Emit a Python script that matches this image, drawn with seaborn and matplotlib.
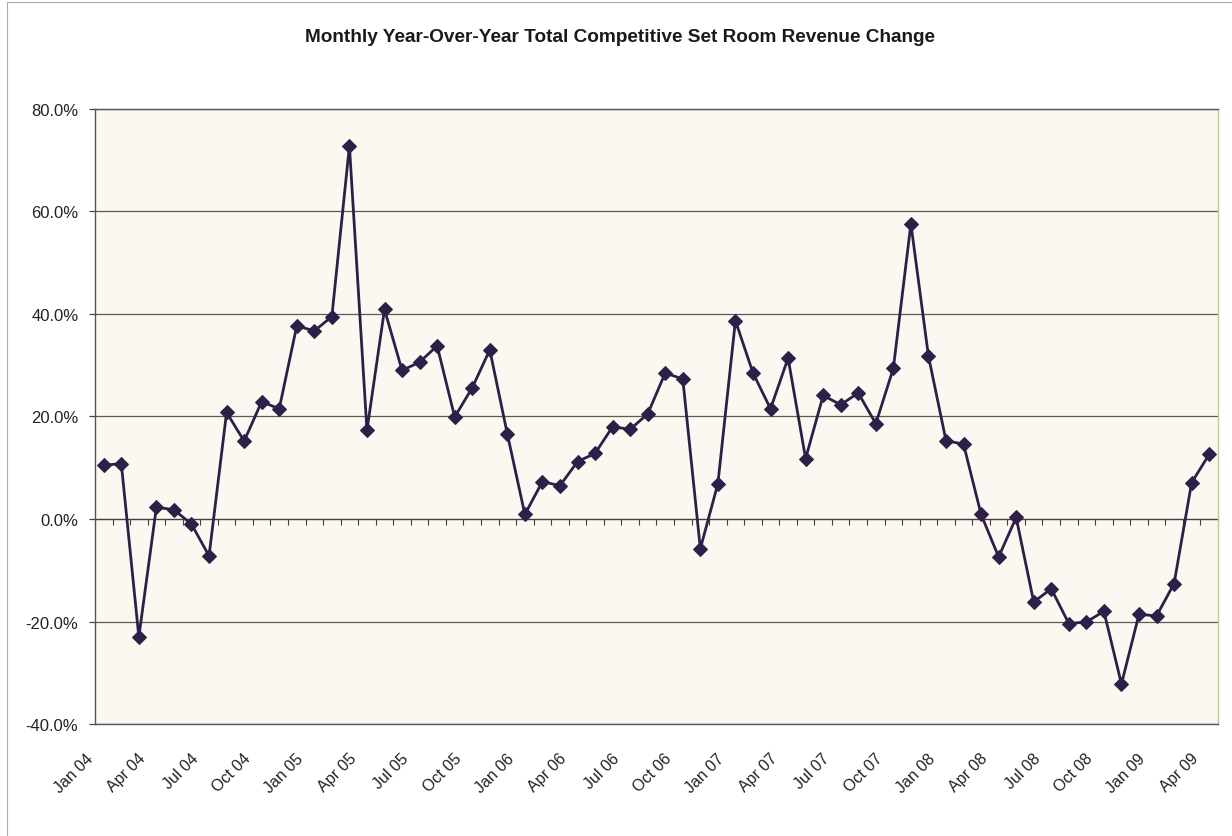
import numpy as np
import pandas as pd
import matplotlib
matplotlib.use("Agg")
import matplotlib.pyplot as plt
import matplotlib.patches as mpatches
from matplotlib.transforms import ScaledTranslation
import seaborn as sns

# monthly YoY change (%), Jan 04 .. Apr 09
rev_change = [
    10.5, 10.8, -23.0, 2.3, 1.8, -1.0, -7.2, 20.8, 15.2, 22.9, 21.5, 37.7,   # 2004
    36.7, 39.5, 72.8, 17.3, 40.9, 29.0, 30.6, 33.8, 19.9, 25.6, 33.0, 16.6,  # 2005
    0.9, 7.3, 6.5, 11.2, 12.8, 18.0, 17.5, 20.5, 28.5, 27.3, -5.8, 6.9,      # 2006
    38.7, 28.5, 21.5, 31.4, 11.8, 24.1, 22.3, 24.6, 18.6, 29.4, 57.6, 31.8,  # 2007
    15.3, 14.6, 0.9, -7.4, 0.3, -16.2, -13.6, -20.4, -20.1, -18.0, -32.2, -18.6,  # 2008
    -18.9, -12.6, 7.1, 12.6,                                                  # 2009
]
tick_labels = [
    "Jan 04", "Apr 04", "Jul 04", "Oct 04", "Jan 05", "Apr 05", "Jul 05", "Oct 05",
    "Jan 06", "Apr 06", "Jul 06", "Oct 06", "Jan 07", "Apr 07", "Jul 07", "Oct 07",
    "Jan 08", "Apr 08", "Jul 08", "Oct 08", "Jan 09", "Apr 09",
]
y_ticks = [-40, -20, 0, 20, 40, 60, 80]
title = "Monthly Year-Over-Year Total Competitive Set Room Revenue Change"

df = pd.DataFrame({"month": np.arange(len(rev_change)), "change": rev_change})

sns.set_style("white")
plt.rcParams["font.family"] = ["Liberation Sans", "DejaVu Sans"]

fig = plt.figure(figsize=(12.32, 8.37), dpi=100)
ax = fig.add_axes([0.0771, 0.1338, 0.9115, 0.7348])
ax.set_facecolor("#faf8f1")

grid_col = "#5e5a4c"
for y in y_ticks:
    if y != 0:
        ax.axhline(y, color=grid_col, lw=0.9, zorder=1)

sns.lineplot(data=df, x="month", y="change", ax=ax, color="#2f1f48", lw=2.0,
             marker="D", markersize=7, markeredgecolor="#2f1f48", zorder=5)

ax.set_xlim(-0.5, len(rev_change) - 0.5)
ax.set_ylim(-40, 80)
ax.set_yticks(y_ticks)
ax.set_yticklabels([f"{v:.1f}%" for v in y_ticks], fontsize=12, color="#222222")
ax.tick_params(axis="y", length=4, width=0.9, color="#444444", pad=8, left=True)

ax.set_xticks(np.arange(0, len(rev_change), 3))
ax.set_xticklabels(tick_labels, rotation=45, ha="right", va="top", fontsize=11.5, color="#222222")
ax.tick_params(axis="x", length=0, pad=19)
for lab in ax.get_xticklabels():
    lab.set_transform(lab.get_transform() + ScaledTranslation(-8 / 100, 0, fig.dpi_scale_trans))
ax.set_xlabel("")
ax.set_ylabel("")

for side in ["left", "top", "bottom"]:
    ax.spines[side].set_color("#555555")
    ax.spines[side].set_linewidth(1.0)
ax.spines["right"].set_color("#cfc88c")
ax.spines["right"].set_linewidth(1.0)

# zero line with category tick marks (x axis crossing at 0%)
zero_ax = ax.secondary_xaxis((0 + 40) / 120)
zero_ax.set_xticks(np.arange(-0.5, len(rev_change), 1))
zero_ax.tick_params(axis="x", length=4, width=0.8, direction="out", color="#4a3a3a",
                    labelbottom=False, labeltop=False)
zero_ax.spines["bottom"].set_color("#4a3a3a")
zero_ax.spines["bottom"].set_linewidth(1.0)
zero_ax.spines["top"].set_visible(False)

fig.text(0.503, 0.955, title, ha="center", va="center", fontsize=13.7, fontweight="bold",
         color="#1a1a1a")

# chart border
fig.patches.append(mpatches.Rectangle((0.006, -0.01), 1.1, 1.007, transform=fig.transFigure,
                                      fill=False, ec="#aaaaaa", lw=0.8))

fig.savefig("out.png", dpi=100)
